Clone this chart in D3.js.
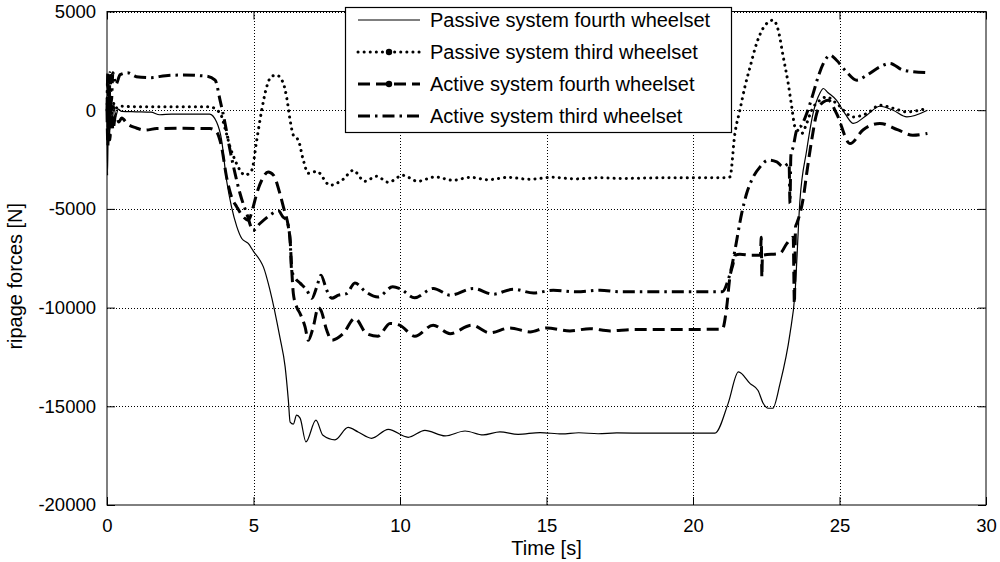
<!DOCTYPE html>
<html>
<head>
<meta charset="utf-8">
<script src="https://cdn.jsdelivr.net/npm/d3@7"></script>
<style>
  body { margin: 0; background: #fff; }
  svg { display: block; }
  text { font-family: Arial, "Liberation Sans", sans-serif; fill: #000; }
</style>
</head>
<body>
<div id="chart"></div>
<script>
// axis settings
const xTicks = [0, 5, 10, 15, 20, 25, 30];
const yTicks = [-20000, -15000, -10000, -5000, 0, 5000];
const xLabel = "Time [s]";
const yLabel = "ripage forces [N]";
const seriesNames = [
    "Passive system fourth wheelset",
    "Passive system third wheelset",
    "Active system fourth wheelset",
    "Active system third wheelset"
];

// [time s, force N]
const passiveFourth = [
    [0,0],[0.02,-3300],[0.05,600],[0.09,-1300],[0.13,500],[0.18,-700],[0.23,300],[0.3,-300],[0.38,50],
    [0.5,-60],[1.0,-80],[1.5,-100],[1.8,-230],[2.2,-200],[3.0,-200],[3.5,-200],[3.74,-600],[3.91,-1500],
    [4.08,-3550],[4.25,-4900],[4.43,-5900],[4.6,-6500],[4.82,-6750],[5.0,-7150],[5.22,-7600],[5.34,-7950],
    [5.56,-9100],[5.9,-11500],[6.08,-13000],[6.19,-14700],[6.25,-15800],[6.36,-15900],[6.47,-15450],
    [6.59,-15600],[6.79,-16800],[7.13,-15700],[7.37,-16470],[7.78,-16700],[8.23,-16070],[8.57,-16300],
    [9.03,-16620],[9.6,-16170],[10.28,-16570],[10.85,-16220],[11.54,-16500],[12.22,-16250],[12.84,-16450],
    [13.41,-16300],[14.03,-16420],[14.78,-16330],[15.52,-16400],[16.1,-16340],[16.76,-16390],[17.4,-16350],
    [18.5,-16360],[20.75,-16360],[21.2,-14850],[21.55,-13260],[21.95,-13850],[22.22,-14200],[22.4,-14860],
    [22.57,-15100],[22.72,-15100],[22.97,-13850],[23.31,-11320],[23.48,-9300],[23.65,-4560],[23.88,-2030],
    [24.1,-150],[24.33,860],[24.45,1100],[24.6,900],[24.9,500],[25.2,-200],[25.47,-670],[25.93,-250],
    [26.38,200],[26.83,0],[27.3,-340],[28.0,0]
];
const passiveThird = [
    [0,0],[0.03,1500],[0.06,-500],[0.1,800],[0.15,-200],[0.2,400],[0.3,100],[0.4,200],[1,170],[2,170],
    [3,170],[3.5,170],[3.86,-150],[4.03,-930],[4.2,-1860],[4.37,-2530],[4.54,-3040],[4.71,-3290],
    [4.94,-3040],[5.11,-1520],[5.28,0],[5.45,1180],[5.62,1720],[5.79,1770],[6.0,1430],[6.13,670],
    [6.25,-510],[6.36,-1270],[6.53,-1520],[6.7,-2530],[6.87,-3200],[7.16,-3100],[7.61,-3800],[8.06,-3500],
    [8.4,-3050],[8.8,-3600],[9.2,-3350],[9.6,-3650],[10.1,-3300],[10.6,-3600],[11.2,-3380],[11.8,-3550],
    [12.4,-3400],[13.0,-3520],[13.7,-3400],[14.4,-3500],[15.2,-3400],[16.0,-3480],[16.8,-3420],[17.6,-3460],
    [18.5,-3430],[21.1,-3420],[21.26,-3380],[21.43,-1180],[21.6,0],[21.77,1180],[21.95,2200],[22.17,3380],
    [22.46,4300],[22.74,4560],[22.91,4050],[23.08,2700],[23.25,1350],[23.37,170],[23.48,-850],[23.6,-1050],
    [23.71,-1180],[23.88,-670],[24.05,0],[24.33,500],[24.56,670],[24.9,340],[25.47,-340],[25.93,-170],
    [26.38,250],[26.83,100],[27.3,-85],[28.0,100]
];
const activeFourth = [
    [0,0],[0.03,-1800],[0.06,800],[0.1,-1500],[0.15,300],[0.2,-1000],[0.3,-200],[0.4,-600],[0.5,-400],
    [0.7,-700],[1.0,-900],[1.3,-1010],[1.7,-930],[2.6,-920],[3.52,-930],[3.74,-1100],[3.91,-1860],
    [4.08,-3380],[4.25,-4390],[4.43,-4900],[4.65,-5400],[4.82,-5570],[4.99,-4900],[5.11,-4220],[5.28,-3550],
    [5.5,-3130],[5.68,-3290],[5.9,-4220],[6.02,-4900],[6.19,-5910],[6.25,-6590],[6.3,-7940],[6.36,-9290],
    [6.47,-9960],[6.59,-10300],[6.76,-10980],[6.87,-11650],[7.04,-10980],[7.21,-10000],[7.3,-10130],
    [7.5,-11150],[7.67,-11650],[8.06,-11320],[8.46,-10540],[8.86,-11320],[9.25,-11450],[9.66,-10800],
    [10.0,-10900],[10.51,-11450],[11.13,-10890],[11.71,-11320],[12.45,-10890],[13.07,-11280],[13.75,-11030],
    [14.44,-11230],[15.0,-11030],[15.8,-11180],[16.48,-11070],[17.17,-11180],[17.95,-11110],[21.0,-11100],
    [21.15,-9970],[21.26,-8450],[21.37,-7770],[21.43,-7350],[21.6,-7300],[22.0,-7350],[22.3,-7350],
    [22.33,-6430],[22.35,-8450],[22.37,-7350],[22.97,-7250],[23.2,-6760],[23.42,-6430],[23.46,-9800],
    [23.5,-5900],[23.54,-5740],[23.65,-5240],[23.77,-4390],[23.88,-3210],[24.05,-1520],[24.22,-170],
    [24.45,420],[24.62,500],[24.9,-170],[25.36,-1690],[25.8,-1000],[26.38,-670],[27.0,-1000],[27.5,-1270],
    [28.0,-1180]
];
const activeThird = [
    [0,0],[0.03,1900],[0.06,-1500],[0.1,1900],[0.15,400],[0.2,1900],[0.3,1300],[0.45,1800],[0.7,1900],
    [1.0,1700],[1.5,1650],[2.0,1750],[2.6,1780],[3.4,1720],[3.69,1520],[3.86,500],[4.03,-670],[4.2,-2030],
    [4.37,-3200],[4.54,-4220],[4.77,-5240],[4.99,-6080],[5.22,-5740],[5.56,-5320],[5.85,-5100],[6.0,-5400],
    [6.13,-5570],[6.25,-6590],[6.3,-8100],[6.42,-8500],[6.59,-8760],[6.82,-9120],[6.99,-9530],[7.16,-8950],
    [7.3,-8360],[7.5,-9120],[7.67,-9530],[7.9,-9370],[8.18,-9290],[8.46,-8750],[8.83,-9200],[9.25,-9460],
    [9.75,-8950],[10.0,-9040],[10.5,-9500],[11.14,-9030],[11.71,-9370],[12.5,-9030],[13.18,-9320],
    [13.87,-9070],[14.56,-9260],[15.23,-9120],[16.03,-9200],[16.83,-9120],[17.5,-9200],[21.0,-9200],
    [21.2,-8600],[21.32,-7940],[21.43,-7100],[21.66,-5240],[21.83,-4220],[22.0,-3550],[22.29,-2870],
    [22.57,-2530],[22.86,-2620],[23.08,-2870],[23.28,-2700],[23.31,-4720],[23.34,-2300],[23.42,-1860],
    [23.54,-1010],[23.71,-760],[23.88,-170],[24.1,840],[24.27,1690],[24.45,2370],[24.68,2790],[24.9,2530],
    [25.24,1940],[25.59,1520],[25.93,1770],[26.38,2200],[26.72,2370],[27.17,2030],[28.0,1900]
];

const width = 1000, height = 562;
const margin = { left: 107, right: 14, top: 11.5, bottom: 57 };

const svg = d3.select("#chart")
    .append("svg")
    .attr("width", width)
    .attr("height", height);

const x = d3.scaleLinear().domain([0, 30]).range([margin.left, width - margin.right]);
const y = d3.scaleLinear().domain([-20000, 5000]).range([height - margin.bottom, margin.top]);

// grid
const grid = svg.append("g")
    .attr("stroke", "#000")
    .attr("stroke-width", 1)
    .attr("stroke-dasharray", "1,2")
    .attr("shape-rendering", "crispEdges");
grid.selectAll(".gx").data(xTicks.slice(1, -1)).enter().append("line")
    .attr("x1", d => Math.round(x(d)) + 0.5).attr("x2", d => Math.round(x(d)) + 0.5)
    .attr("y1", y(5000)).attr("y2", y(-20000));
grid.selectAll(".gy").data(yTicks.slice(1, -1).concat([5000])).enter().append("line")
    .attr("y1", d => Math.round(y(d)) + 0.5).attr("y2", d => Math.round(y(d)) + 0.5)
    .attr("x1", x(0)).attr("x2", x(30));

// axes (ticks inward, MATLAB style)
const plain = d => String(d);
svg.append("g")
    .attr("transform", `translate(0,${y(-20000)})`)
    .call(d3.axisBottom(x).tickValues(xTicks).tickFormat(plain).tickSizeInner(-8).tickSizeOuter(0).tickPadding(14));
svg.append("g")
    .attr("transform", `translate(${x(0)},0)`)
    .call(d3.axisLeft(y).tickValues(yTicks).tickFormat(plain).tickSizeInner(-8).tickSizeOuter(0).tickPadding(11));
svg.append("g")
    .attr("transform", `translate(0,${y(5000)})`)
    .call(d3.axisTop(x).tickValues(xTicks).tickSizeInner(-8).tickSizeOuter(0).tickFormat(""));
svg.append("g")
    .attr("transform", `translate(${x(30)},0)`)
    .call(d3.axisRight(y).tickValues(yTicks).tickSizeInner(-8).tickSizeOuter(0).tickFormat(""));
svg.selectAll(".domain").remove();
svg.selectAll(".tick line").attr("stroke", "#000");
svg.selectAll(".tick text")
    .style("font-size", "18.5px")
    .style("font-family", "Arial, 'Liberation Sans', sans-serif");

// plot box
svg.append("rect")
    .attr("x", x(0)).attr("y", y(5000))
    .attr("width", x(30) - x(0)).attr("height", y(-20000) - y(5000))
    .attr("fill", "none").attr("stroke", "#000").attr("stroke-width", 1);

// labels
svg.append("text")
    .attr("x", (x(0) + x(30)) / 2).attr("y", 555)
    .attr("text-anchor", "middle")
    .style("font-size", "20px")
    .text(xLabel);
svg.append("text")
    .attr("transform", `translate(22,${(y(5000) + y(-20000)) / 2 + 18}) rotate(-90)`)
    .attr("text-anchor", "middle")
    .style("font-size", "20px")
    .text(yLabel);

// series styles
const styles = [
    { data: passiveFourth, width: 1.2, dash: null, cap: "butt" },
    { data: passiveThird, width: 3, dash: "0.1,6", cap: "round" },
    { data: activeFourth, width: 3, dash: "12,6", cap: "butt" },
    { data: activeThird, width: 3, dash: "12,5,2.5,5", cap: "butt" }
];

const line = d3.line()
    .x(d => x(d[0]))
    .y(d => y(d[1]))
    .curve(d3.curveMonotoneX);

const plot = svg.append("g");
styles.forEach(s => {
    plot.append("path")
        .datum(s.data)
        .attr("d", line)
        .attr("fill", "none")
        .attr("stroke", "#000")
        .attr("stroke-width", s.width)
        .attr("stroke-dasharray", s.dash)
        .attr("stroke-linecap", s.cap)
        .attr("stroke-linejoin", "round");
});

// legend
const legend = svg.append("g");
legend.append("rect")
    .attr("x", 345.5).attr("y", 7.5).attr("width", 386).attr("height", 125)
    .attr("fill", "#fff").attr("stroke", "#000").attr("stroke-width", 1.2);
styles.forEach((s, i) => {
    const ly = 20 + i * 32;
    legend.append("line")
        .attr("x1", 358).attr("x2", 420).attr("y1", ly).attr("y2", ly)
        .attr("stroke", "#000")
        .attr("stroke-width", s.width)
        .attr("stroke-dasharray", s.dash)
        .attr("stroke-linecap", s.cap);
    if (i === 1 || i === 2) {
        legend.append("circle").attr("cx", 389).attr("cy", ly).attr("r", 3.2).attr("fill", "#000");
    }
    legend.append("text")
        .attr("x", 430).attr("y", ly)
        .attr("dy", "0.35em")
        .style("font-size", "20px")
        .text(seriesNames[i]);
});
</script>
</body>
</html>
